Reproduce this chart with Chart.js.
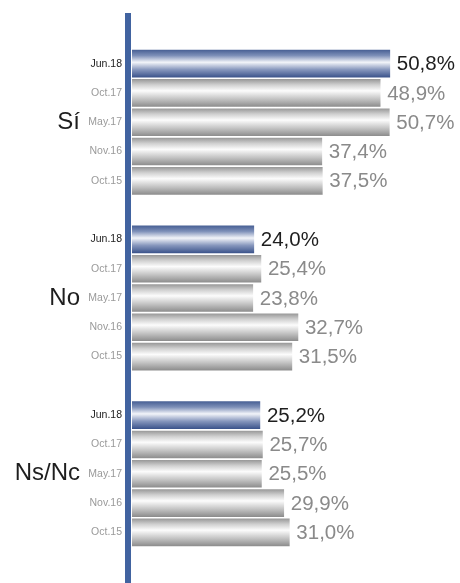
<!DOCTYPE html>
<html>
<head>
<meta charset="utf-8">
<script src="https://cdn.jsdelivr.net/npm/chart.js@4"></script>
<style>
  html, body { margin: 0; padding: 0; background: #fff; }
  #wrap { width: 460px; height: 583px; }
</style>
</head>
<body>
<div id="wrap"><canvas id="chart" width="460" height="583"></canvas></div>
<script>
// datos
const fechas = ['Jun.18', 'Oct.17', 'May.17', 'Nov.16', 'Oct.15'];
const grupos = ['Sí', 'No', 'Ns/Nc'];
const valoresSi = [50.8, 48.9, 50.7, 37.4, 37.5];
const valoresNo = [24.0, 25.4, 23.8, 32.7, 31.5];
const valoresNsNc = [25.2, 25.7, 25.5, 29.9, 31.0];

const series = [valoresSi, valoresNo, valoresNsNc];

// one row per date, with an empty row between groups
const labels = [];
const grupoLabels = [];
const valores = [];
series.forEach((serie, g) => {
    fechas.forEach((f, i) => {
        labels.push(f);
        grupoLabels.push(i === 2 ? grupos[g] : '');
        valores.push(serie[i]);
    });
    if (g < series.length - 1) {
        labels.push('');
        grupoLabels.push('');
        valores.push(null);
    }
});

const BAR_H = 27;

const esActual = (label) => label === fechas[0];

function barGradient(context) {
    const chart = context.chart;
    const esAzul = esActual(labels[context.dataIndex]);
    if (!chart.chartArea) return esAzul ? '#5a72a6' : '#bbbbbb';
    const y = chart.scales.y.getPixelForValue(context.dataIndex);
    const g = chart.ctx.createLinearGradient(0, y - BAR_H / 2, 0, y + BAR_H / 2);
    if (esAzul) {
        g.addColorStop(0, '#4a6296');
        g.addColorStop(0.2, '#7d8fb8');
        g.addColorStop(0.45, '#f2f4f9');
        g.addColorStop(0.72, '#8797bd');
        g.addColorStop(1, '#3d558c');
    } else {
        g.addColorStop(0, '#9a9a9a');
        g.addColorStop(0.2, '#d0d0d0');
        g.addColorStop(0.42, '#fcfcfc');
        g.addColorStop(0.72, '#c4c4c4');
        g.addColorStop(1, '#8e8e8e');
    }
    return g;
}

const ejePlugin = {
    id: 'ejeAzul',
    beforeDatasetsDraw(chart) {
        const ctx = chart.ctx;
        ctx.save();
        ctx.fillStyle = '#4163a0';
        ctx.fillRect(chart.chartArea.left - 7, 13, 6, chart.height - 13);
        ctx.restore();
    }
};

const valoresPlugin = {
    id: 'valores',
    afterDatasetsDraw(chart) {
        const ctx = chart.ctx;
        const meta = chart.getDatasetMeta(0);
        ctx.save();
        ctx.font = '20.5px "Liberation Sans", Arial, sans-serif';
        ctx.textBaseline = 'middle';
        ctx.textAlign = 'left';
        meta.data.forEach((bar, i) => {
            const v = valores[i];
            if (v === null) return;
            ctx.fillStyle = esActual(labels[i]) ? '#1e1e1e' : '#8a8a8a';
            ctx.fillText(v.toFixed(1).replace('.', ',') + '%', bar.x + 7, bar.y + 1);
        });
        ctx.restore();
    }
};

new Chart(document.getElementById('chart'), {
    type: 'bar',
    data: {
        labels: labels,
        datasets: [{
            data: valores,
            backgroundColor: barGradient,
            borderWidth: 0,
            barThickness: BAR_H,
            yAxisID: 'y'
        }]
    },
    options: {
        indexAxis: 'y',
        responsive: false,
        animation: false,
        layout: { padding: { top: 49, bottom: 36, right: 23.5, left: 0 } },
        plugins: {
            legend: { display: false },
            tooltip: { enabled: false }
        },
        scales: {
            x: {
                display: false,
                min: 0,
                max: 60
            },
            y: {
                type: 'category',
                position: 'left',
                weight: 1,
                offset: true,
                grid: { display: false, drawTicks: false },
                border: { display: false },
                ticks: {
                    autoSkip: false,
                    padding: 10,
                    font: { size: 10.5, family: '"Liberation Sans", Arial, sans-serif' },
                    color: (c) => esActual(labels[c.index]) ? '#222222' : '#9a9a9a'
                },
                afterFit: (scale) => { scale.width = 48; }
            },
            yg: {
                type: 'category',
                labels: grupoLabels,
                position: 'left',
                weight: 2,
                offset: true,
                grid: { display: false, drawTicks: false },
                border: { display: false },
                ticks: {
                    autoSkip: false,
                    padding: 4,
                    font: { size: 24, family: '"Liberation Sans", Arial, sans-serif' },
                    color: '#1e1e1e'
                },
                afterFit: (scale) => { scale.width = 84; }
            }
        }
    },
    plugins: [ejePlugin, valoresPlugin]
});
</script>
</body>
</html>
